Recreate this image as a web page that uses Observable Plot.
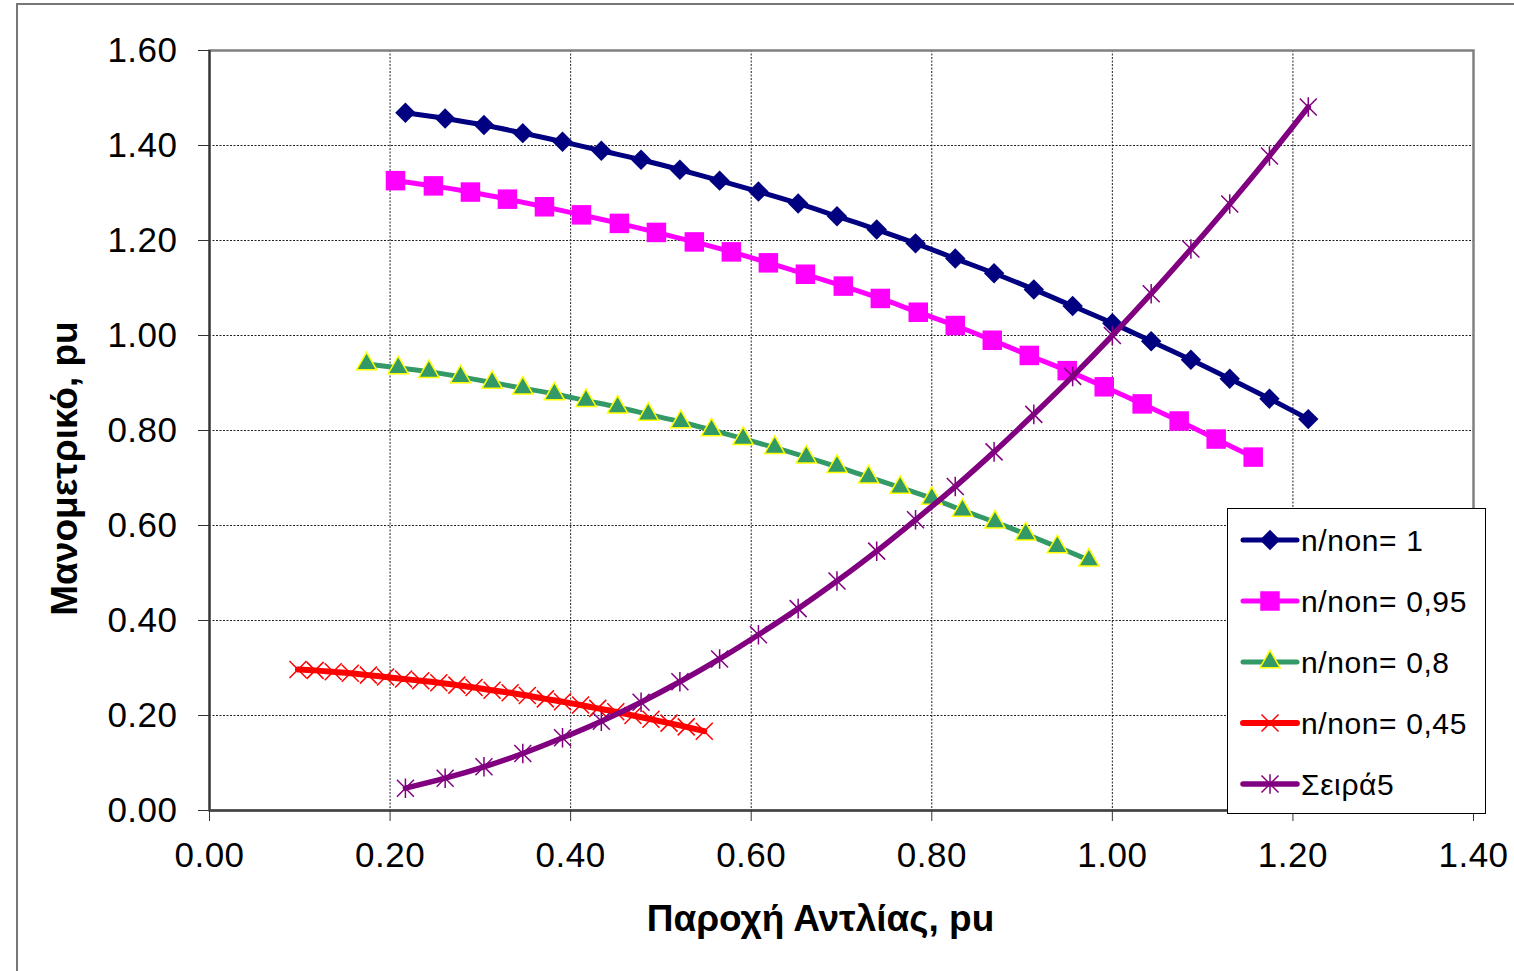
<!DOCTYPE html>
<html><head><meta charset="utf-8">
<script src="https://cdn.jsdelivr.net/npm/d3@7"></script>
<script src="https://cdn.jsdelivr.net/npm/@observablehq/plot@0.6"></script>
<style>
body{margin:0;background:#fff;}
#wrap{position:relative;width:1514px;height:971px;overflow:hidden;background:#fff;}
#border{position:absolute;left:16px;top:3px;right:-10px;bottom:-10px;border-left:2px solid #777;border-top:2px solid #777;pointer-events:none;}
svg text{font-family:"Liberation Sans",Arial,sans-serif;}
g[aria-label="x-axis tick label"] text, g[aria-label="y-axis tick label"] text{letter-spacing:0.5px;}
</style></head><body><div id="wrap"></div>
<script>
const seriesNames = ["n/non= 1", "n/non= 0,95", "n/non= 0,8", "n/non= 0,45", "Σειρά5"];

const q1 = [0.217,0.261,0.304,0.347,0.391,0.434,0.478,0.521,0.565,0.608,0.652,0.695,0.739,0.782,0.826,0.869,0.913,0.956,1.000,1.043,1.087,1.130,1.174,1.217];
const h1 = [1.469,1.457,1.443,1.426,1.408,1.389,1.370,1.349,1.326,1.303,1.278,1.251,1.223,1.194,1.162,1.131,1.097,1.062,1.026,0.988,0.949,0.909,0.867,0.824];

const q2 = [0.206,0.248,0.289,0.330,0.371,0.412,0.454,0.495,0.537,0.578,0.619,0.660,0.702,0.743,0.785,0.826,0.867,0.908,0.950,0.991,1.033,1.074,1.115,1.156];
const h2 = [1.326,1.315,1.302,1.287,1.271,1.254,1.236,1.217,1.197,1.176,1.153,1.129,1.104,1.078,1.049,1.021,0.990,0.958,0.926,0.892,0.856,0.820,0.782,0.744];

const q3 = [0.174,0.209,0.243,0.278,0.313,0.347,0.382,0.417,0.452,0.486,0.522,0.556,0.591,0.626,0.661,0.695,0.730,0.765,0.800,0.834,0.870,0.904,0.939,0.974];
const h3 = [0.940,0.932,0.924,0.913,0.901,0.889,0.877,0.863,0.849,0.834,0.818,0.801,0.783,0.764,0.744,0.724,0.702,0.680,0.657,0.632,0.607,0.582,0.555,0.527];

const q4 = [0.098,0.117,0.137,0.156,0.176,0.195,0.215,0.234,0.254,0.274,0.293,0.313,0.333,0.352,0.372,0.391,0.411,0.430,0.450,0.469,0.489,0.509,0.528,0.548];
const h4 = [0.297,0.295,0.292,0.289,0.285,0.281,0.277,0.273,0.269,0.264,0.259,0.253,0.248,0.242,0.235,0.229,0.222,0.215,0.208,0.200,0.192,0.184,0.176,0.167];

const q5 = [0.217,0.261,0.304,0.347,0.391,0.434,0.478,0.521,0.565,0.608,0.652,0.695,0.739,0.782,0.826,0.869,0.913,0.956,1.000,1.043,1.087,1.130,1.174,1.217];
const h5 = [0.047,0.068,0.092,0.120,0.153,0.188,0.228,0.271,0.319,0.370,0.425,0.483,0.546,0.612,0.682,0.755,0.834,0.914,1.000,1.088,1.182,1.277,1.378,1.481];

const xTicks = [0, 0.2, 0.4, 0.6, 0.8, 1.0, 1.2, 1.4];
const yTicks = [0, 0.2, 0.4, 0.6, 0.8, 1.0, 1.2, 1.4, 1.6];
const xTitle = "Παροχή Αντλίας, pu";
const yTitle = "Μανομετρικό, pu";

const Qs = [q1, q2, q3, q4, q5];
const Hs = [h1, h2, h3, h4, h5];
const table = [];
Qs.forEach((qs, s) => qs.forEach((q, i) => table.push({series: seriesNames[s], q, h: Hs[s][i]})));

// custom marker shapes (Excel-like X and star)
const symCross = {draw(ctx, size) { const r = Math.sqrt(size / Math.PI); ctx.moveTo(-r, -r); ctx.lineTo(r, r); ctx.moveTo(-r, r); ctx.lineTo(r, -r); }};
const symStar = {draw(ctx, size) { const r = Math.sqrt(size / Math.PI); const v = r * 1.15; ctx.moveTo(-r, -r); ctx.lineTo(r, r); ctx.moveTo(-r, r); ctx.lineTo(r, -r); ctx.moveTo(0, -v); ctx.lineTo(0, v); }};

const styles = [
  {color: "#000080", lw: 5, symbol: d3.symbolDiamond2, r: 9.2, fill: "#000080", stroke: "none", sw: 0},
  {color: "#FF00FF", lw: 5, symbol: d3.symbolSquare, r: 11, fill: "#FF00FF", stroke: "none", sw: 0},
  {color: "#339966", lw: 5, symbol: d3.symbolTriangle, r: 7.5, fill: "#339966", stroke: "#FFFF00", sw: 1.5},
  {color: "#FF0000", lw: 6, symbol: symCross, r: 8.5, fill: "none", stroke: "#FF0000", sw: 1.5},
  {color: "#800080", lw: 5.5, symbol: symStar, r: 8.5, fill: "none", stroke: "#800080", sw: 1.5}
];

const seriesMarks = [];
seriesNames.forEach((name, s) => {
  const st = styles[s];
  const rows = table.filter(d => d.series === name);
  seriesMarks.push(Plot.line(rows, {x: "q", y: "h", stroke: st.color, strokeWidth: st.lw, curve: "catmull-rom"}));
  seriesMarks.push(Plot.dot(rows, {x: "q", y: "h", symbol: st.symbol, r: st.r, fill: st.fill, stroke: st.stroke, strokeWidth: st.sw}));
});

const fmt = d3.format(".2f");
const chart = Plot.plot({
  width: 1514, height: 971,
  marginLeft: 209, marginRight: 41, marginTop: 50, marginBottom: 161,
  style: {background: "transparent", fontSize: "35px", color: "#000", overflow: "visible"},
  x: {domain: [0, 1.4]},
  y: {domain: [0, 1.6]},
  marks: [
    Plot.gridX(xTicks.slice(1, -1), {stroke: "#222", strokeOpacity: 1, strokeWidth: 1, strokeDasharray: "2,1.5"}),
    Plot.gridY(yTicks.slice(1, -1), {stroke: "#222", strokeOpacity: 1, strokeWidth: 1, strokeDasharray: "2,1.5"}),
    Plot.frame({stroke: "#808080", strokeWidth: 2.5}),
    Plot.ruleX([0], {stroke: "#333", strokeWidth: 2}),
    Plot.ruleY([0], {stroke: "#444", strokeWidth: 2.5}),
    Plot.axisX(xTicks, {tickSize: 11, tickPadding: 21, tickFormat: fmt, label: null, stroke: "#333"}),
    Plot.axisY(yTicks, {tickSize: 11, tickPadding: 21, tickFormat: fmt, label: null, stroke: "#333"}),
    ...seriesMarks,
    Plot.text([xTitle], {frameAnchor: "bottom", textAnchor: "middle", lineAnchor: "bottom", dx: -21, dy: 120, fontWeight: "bold", fontSize: 37, fill: "#000"}),
    Plot.text([yTitle], {frameAnchor: "left", textAnchor: "middle", lineAnchor: "middle", rotate: -90, dx: -144, dy: 38, fontWeight: "bold", fontSize: 37, fill: "#000"})
  ]
});

const wrap = document.getElementById("wrap");
wrap.appendChild(chart);
const border = document.createElement("div");
border.id = "border";
wrap.appendChild(border);

// Legend
const svg = d3.select(chart);
const lg = svg.append("g").attr("aria-label", "legend");
const lx = 1227.5, ly = 508.5, lw = 258, lh = 305, rowH = 61, row0 = 540;
lg.append("rect").attr("x", lx).attr("y", ly).attr("width", lw).attr("height", lh)
  .attr("fill", "#fff").attr("stroke", "#000").attr("stroke-width", 1);
seriesNames.forEach((name, s) => {
  const st = styles[s];
  const cy = row0 + s * rowH;
  lg.append("line").attr("x1", 1243).attr("x2", 1297).attr("y1", cy).attr("y2", cy)
    .attr("stroke", st.color).attr("stroke-width", st.lw).attr("stroke-linecap", "round");
  lg.append("path").attr("transform", `translate(1270,${cy})`)
    .attr("d", d3.symbol(st.symbol, st.r * st.r * Math.PI)())
    .attr("fill", st.fill).attr("stroke", st.stroke === "none" ? null : st.stroke).attr("stroke-width", st.sw);
  lg.append("text").attr("x", 1301).attr("y", cy).attr("dy", "0.35em").attr("text-anchor", "start")
    .attr("font-size", 30).attr("letter-spacing", "0.6px").attr("fill", "#000").text(name);
});
</script>
</body></html>
